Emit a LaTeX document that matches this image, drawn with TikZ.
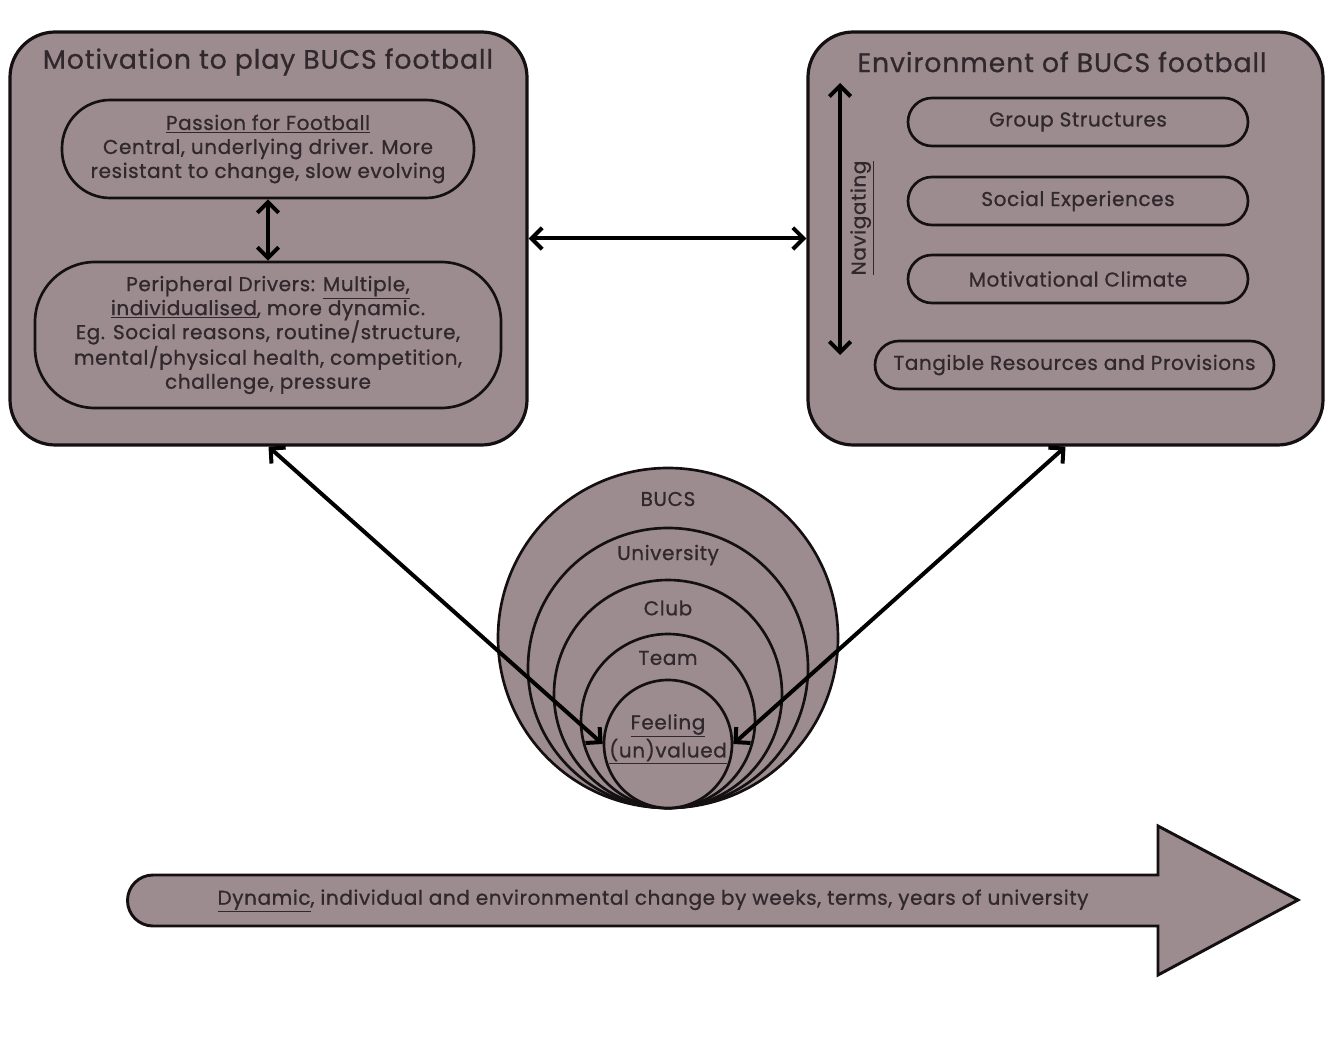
\documentclass[tikz,border=0pt]{standalone}
\usepackage{fontspec}
\setmainfont{Poppins}[RawFeature={embolden=0.8}]
\usetikzlibrary{arrows.meta}
\definecolor{boxfill}{RGB}{156,140,144}
\definecolor{txt}{RGB}{48,40,44}
\definecolor{edge}{RGB}{20,16,18}
\newfontfamily\bodyfont{Poppins}[RawFeature={embolden=0.8}, LetterSpace=3]
\newfontfamily\titlefont{Poppins}[RawFeature={embolden=0.8}, LetterSpace=3.5]
\tikzset{
  bigbox/.style={draw=edge, fill=boxfill, line width=2.4pt, rounded corners=34pt, inner sep=0pt},
  pill/.style={draw=edge, fill=boxfill, line width=2pt, inner sep=0pt, align=center, text=txt, font=\bodyfont\fontsize{15}{18}\selectfont},
  ring/.style={draw=edge, fill=boxfill, line width=2pt, circle, inner sep=0pt},
  lab/.style={text=txt, font=\bodyfont\fontsize{15}{18}\selectfont, align=center, inner sep=0pt},
  ttl/.style={text=txt, font=\titlefont\fontsize{20}{22}\selectfont, inner sep=0pt},
  dbl/.style={line width=3pt, draw=black, {Straight Barb[length=8pt,width=16pt,line width=3pt]}-{Straight Barb[length=8pt,width=16pt,line width=3pt]}},
}
\begin{document}
\begin{tikzpicture}[x=0.75pt,y=-0.75pt]
\useasboundingbox (0,0) rectangle (1325,1059);
\fill[white] (0,0) rectangle (1325,1059);

% left box
\node[bigbox, minimum width=387.75pt, minimum height=309.75pt] (L) at (268.5,238.5) {};
\node[ttl] (Lt) at (268,62) {Motivation to play BUCS football};
\node[pill, rounded corners=36pt, minimum width=309pt, minimum height=73.5pt] (P) at (268,149)
  {\underline{Passion for Football}\\Central, underlying driver. More\\resistant to change, slow evolving};
\node[pill, rounded corners=45pt, minimum width=349.5pt, minimum height=109.5pt] (Q) at (268,335)
  {Peripheral Drivers: \underline{Multiple,}\\\underline{individualised}, more dynamic.\\Eg. Social reasons, routine/structure,\\mental/physical health, competition,\\challenge, pressure};
\draw[dbl] (P.south) -- (Q.north);

% right box
\node[bigbox, minimum width=386.25pt, minimum height=309.75pt] (R) at (1065.5,238.5) {};
\node[ttl] (Rt) at (1062,62) {Environment of BUCS football};
\node[pill, rounded corners=18pt, minimum width=255pt, minimum height=36pt] (G) at (1078,122) {Group Structures};
\node[pill, rounded corners=18pt, minimum width=255pt, minimum height=36pt] (S) at (1078,201) {Social Experiences};
\node[pill, rounded corners=18pt, minimum width=255pt, minimum height=36pt] (M) at (1078,279) {Motivational Climate};
\node[pill, rounded corners=18pt, minimum width=299.25pt, minimum height=36pt] (T) at (1074.5,365) {Tangible Resources and Provisions};
\coordinate (n1) at (840,83);
\coordinate (n2) at (840,355);
\draw[dbl] (n1) -- (n2);
\node[lab, rotate=90] (Nav) at (862,218) {\underline{Navigating}};

\draw[dbl] (L.east) -- (R.west);

% circles
\node[ring, minimum size=255pt] (C1) at (668,638) {};
\node[ring, minimum size=210pt] (C2) at (668,668) {};
\node[ring, minimum size=171pt] (C3) at (668,694) {};
\node[ring, minimum size=130.5pt] (C4) at (668,721) {};
\node[ring, minimum size=96pt] (F) at (668,744) {};
\node[lab, font=\bodyfont\fontsize{15}{17}\selectfont] (Fl) at (668,739) {\underline{Feeling}\\\underline{(un)valued}};
\node[lab] (l1) at (668,499) {BUCS};
\node[lab] (l2) at (668,555) {University};
\node[lab] (l3) at (668,608) {Club};
\node[lab] (l4) at (668,658) {Team};

\draw[dbl] (L.south) -- (F.west);
\draw[dbl] (R.south) -- (F.east);

% bottom arrow
\draw[draw=edge, fill=boxfill, line width=2.2pt, line join=miter]
  (153,875) -- (1158,875) -- (1158,826) -- (1298,900) -- (1158,975) -- (1158,926) -- (153,926)
  arc[start angle=90, end angle=270, radius=25.5] -- cycle;
\node[lab] (D) at (653,901)
  {\underline{Dynamic}, individual and environmental change by weeks, terms, years of university};
\end{tikzpicture}
\end{document}
